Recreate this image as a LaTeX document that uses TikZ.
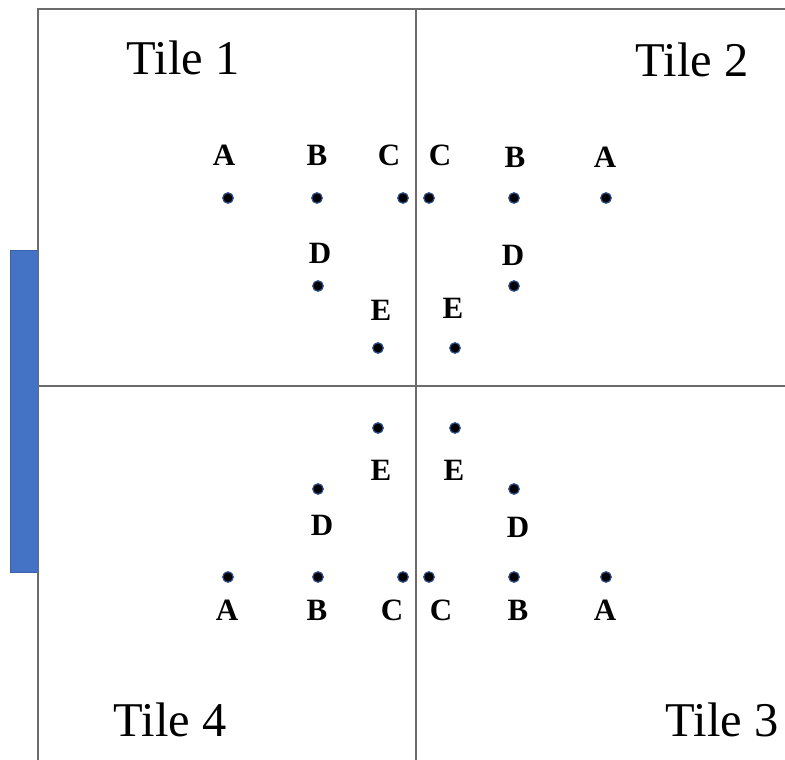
\documentclass[tikz,border=0pt]{standalone}
\usepackage{fontspec}
\setmainfont{Liberation Serif}
\usepackage{xcolor}
\usetikzlibrary{positioning}

\definecolor{barblue}{HTML}{4472C4}
\definecolor{baredge}{HTML}{3A62A8}
\definecolor{dotedge}{HTML}{2F4F8F}

\tikzset{
  tileline/.style={draw=gray!85!black, line width=1.6pt},
  pin/.style={circle, fill=black, draw=dotedge, line width=1.2pt, inner sep=0pt, minimum size=10.5pt},
  ptlabel/.style={font=\bfseries\fontsize{31}{31}\selectfont, inner sep=0pt},
  tilename/.style={font=\fontsize{48.5}{48.5}\selectfont, inner sep=0pt}
}

\begin{document}
\begin{tikzpicture}[x=1pt, y=-1pt]
\useasboundingbox (0,0) rectangle (785,760);

% Side bar
\fill[barblue, draw=baredge, line width=1pt] (10,250) rectangle (37,572);

% Tile borders
\coordinate (tl) at (38,9);
\coordinate (tr) at (785,9);
\coordinate (bl) at (38,760);
\coordinate (mt) at (416,9);
\coordinate (mb) at (416,760);
\coordinate (ml) at (38,386);
\coordinate (mr) at (785,386);
\draw[tileline] (bl) -- (tl) -- (tr);
\draw[tileline] (mt) -- (mb);
\draw[tileline] (ml) -- (mr);

% Tile names
\node[tilename] (t1) at (183,58) {Tile 1};
\node[tilename] (t2) at (692,60) {Tile 2};
\node[tilename] (t4) at (170,720) {Tile 4};
\node[tilename] (t3) at (722,720) {Tile 3};

% Tile 1
\node[pin] (a1) at (228,198) {};
\node[pin] (b1) at (317,198) {};
\node[pin] (c1) at (403,198) {};
\node[pin] (d1) at (318,286) {};
\node[pin] (e1) at (378,348) {};
\node[ptlabel] (la1) at (224,155) {A};
\node[ptlabel] (lb1) at (317,155) {B};
\node[ptlabel] (lc1) at (389,155) {C};
\node[ptlabel] (ld1) at (320,253) {D};
\node[ptlabel] (le1) at (381,310) {E};

% Tile 2
\node[pin] (c2) at (429,198) {};
\node[pin] (b2) at (514,198) {};
\node[pin] (a2) at (606,198) {};
\node[pin] (d2) at (514,286) {};
\node[pin] (e2) at (455,348) {};
\node[ptlabel] (lc2) at (440,155) {C};
\node[ptlabel] (lb2) at (515,157) {B};
\node[ptlabel] (la2) at (605,157) {A};
\node[ptlabel] (ld2) at (513,255) {D};
\node[ptlabel] (le2) at (453,308) {E};

% Tile 4
\node[pin] (e4) at (378,428) {};
\node[pin] (d4) at (318,489) {};
\node[pin] (a4) at (228,577) {};
\node[pin] (b4) at (318,577) {};
\node[pin] (c4) at (403,577) {};
\node[ptlabel] (le4) at (381,470) {E};
\node[ptlabel] (ld4) at (322,525) {D};
\node[ptlabel] (la4) at (227,610) {A};
\node[ptlabel] (lb4) at (317,610) {B};
\node[ptlabel] (lc4) at (392,610) {C};

% Tile 3
\node[pin] (e3) at (455,428) {};
\node[pin] (d3) at (514,489) {};
\node[pin] (c3) at (429,577) {};
\node[pin] (b3) at (514,577) {};
\node[pin] (a3) at (606,577) {};
\node[ptlabel] (le3) at (454,470) {E};
\node[ptlabel] (ld3) at (518,527) {D};
\node[ptlabel] (lc3) at (441,610) {C};
\node[ptlabel] (lb3) at (518,610) {B};
\node[ptlabel] (la3) at (605,610) {A};

\end{tikzpicture}
\end{document}
